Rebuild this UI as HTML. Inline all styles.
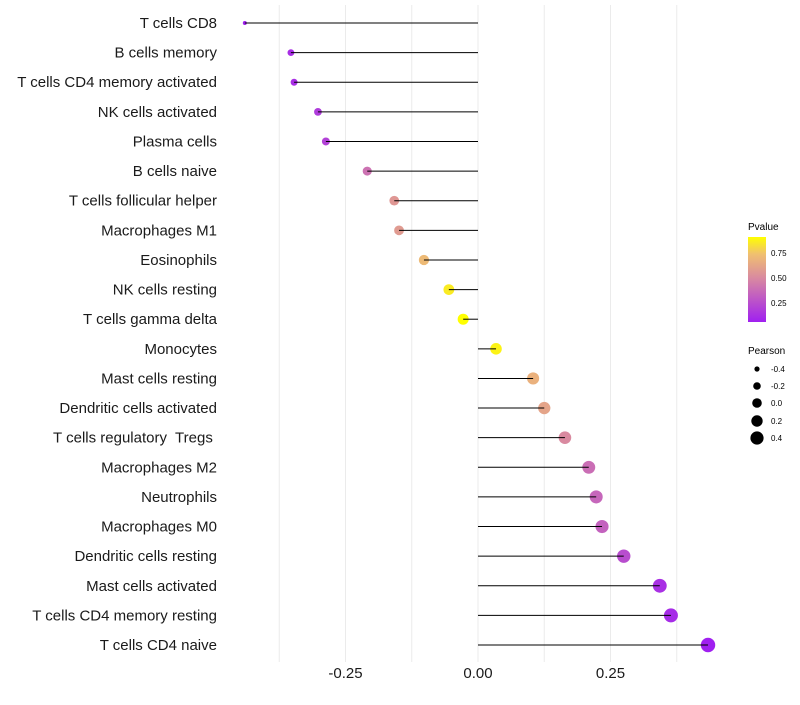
<!DOCTYPE html>
<html><head><meta charset="utf-8"><style>
body{margin:0;background:#fff;font-family:"Liberation Sans",sans-serif}
</style></head><body>
<svg id="chart" width="800" height="700" xmlns="http://www.w3.org/2000/svg" font-family="Liberation Sans, sans-serif">
<defs><linearGradient id="pg" x1="0" y1="1" x2="0" y2="0">
<stop offset="0" stop-color="#a020f0"/><stop offset="0.52" stop-color="#d98aa0"/><stop offset="0.8" stop-color="#f0c070"/><stop offset="1" stop-color="#ffff00"/></linearGradient></defs>
<g id="grid"></g>
<g id="marks"></g>
<g id="labels"></g>
<g id="xticks"></g>
<g>
<text x="748" y="230" font-size="10" fill="#000">Pvalue</text>
<rect x="748" y="237" width="18" height="85" fill="url(#pg)"/>
<text x="771" y="256" font-size="8">0.75</text>
<text x="771" y="281" font-size="8">0.50</text>
<text x="771" y="306" font-size="8">0.25</text>
</g>
<g>
<text x="748" y="354" font-size="10">Pearson</text>
<circle cx="757" cy="369" r="2.6"/><text x="771" y="372" font-size="8">-0.4</text>
<circle cx="757" cy="386" r="3.8"/><text x="771" y="389" font-size="8">-0.2</text>
<circle cx="757" cy="403" r="4.8"/><text x="771" y="406" font-size="8">0.0</text>
<circle cx="757" cy="421" r="5.7"/><text x="771" y="424" font-size="8">0.2</text>
<circle cx="757" cy="438" r="6.6"/><text x="771" y="441" font-size="8">0.4</text>
</g>
</svg>
<script>
const categories=["T cells CD8","B cells memory","T cells CD4 memory activated","NK cells activated","Plasma cells","B cells naive","T cells follicular helper","Macrophages M1","Eosinophils","NK cells resting","T cells gamma delta","Monocytes","Mast cells resting","Dendritic cells activated","T cells regulatory  Tregs ","Macrophages M2","Neutrophils","Macrophages M0","Dendritic cells resting","Mast cells activated","T cells CD4 memory resting","T cells CD4 naive"];
const pearson=[-0.44,-0.353,-0.347,-0.302,-0.287,-0.209,-0.158,-0.149,-0.102,-0.055,-0.028,0.034,0.104,0.125,0.164,0.209,0.223,0.234,0.275,0.343,0.364,0.434];
const pvalue=[0.05,0.11,0.11,0.17,0.19,0.4,0.56,0.58,0.72,0.86,0.92,0.88,0.68,0.62,0.5,0.38,0.35,0.33,0.24,0.12,0.1,0.05];
const xTicks=[-0.25,0,0.25];
const xTickLabels=["-0.25","0.00","0.25"];
const NS="http://www.w3.org/2000/svg";
const x=v=>478+v*530;
const y=i=>23+i*29.62;
const pmin=Math.min(...pearson),pmax=Math.max(...pearson);
const rad=v=>Math.sqrt(4+48*Math.pow((v-pmin)/(pmax-pmin),0.8));
function lerp(a,b,t){return a.map((c,k)=>Math.round(c+(b[k]-c)*t));}
function col(p){const st=[[0.05,[160,32,240]],[0.5,[217,138,160]],[0.75,[240,192,112]],[0.91,[255,255,0]]];
 if(p<=st[0][0])return "rgb("+st[0][1]+")";
 for(let k=1;k<st.length;k++){if(p<=st[k][0]){const t=(p-st[k-1][0])/(st[k][0]-st[k-1][0]);return "rgb("+lerp(st[k-1][1],st[k][1],t)+")";}}
 return "rgb(255,255,0)";}
function mk(t,a,par){const e=document.createElementNS(NS,t);for(const k in a)e.setAttribute(k,a[k]);par.appendChild(e);return e;}
const grid=document.getElementById('grid');
for(let g=-0.375;g<=0.376;g+=0.125){const l=mk('line',{x1:x(g),x2:x(g),y1:5,y2:662,stroke:'#ebebeb','stroke-width':1},grid);

}
const marks=document.getElementById('marks'),labels=document.getElementById('labels');
categories.forEach((c,i)=>{
 const cc=mk('circle',{cx:x(pearson[i]),cy:y(i),r:rad(pearson[i]),fill:col(pvalue[i])},marks);
 
 
 const s=mk('line',{x1:x(0),x2:x(pearson[i]),y1:y(i),y2:y(i),stroke:'#000','stroke-width':1},marks);
 
 
 const t=mk('text',{x:217,y:y(i)+5,'text-anchor':'end','font-size':15,fill:'#1a1a1a','xml:space':'preserve'},labels);
 t.setAttribute('style','white-space:pre');
 t.textContent=c;
 
 
});
const xt=document.getElementById('xticks');
xTicks.forEach((v,i)=>{const t=mk('text',{x:x(v),y:678,'text-anchor':'middle','font-size':15,fill:'#1a1a1a'},xt);
t.textContent=xTickLabels[i];

});
</script>
</body></html>
